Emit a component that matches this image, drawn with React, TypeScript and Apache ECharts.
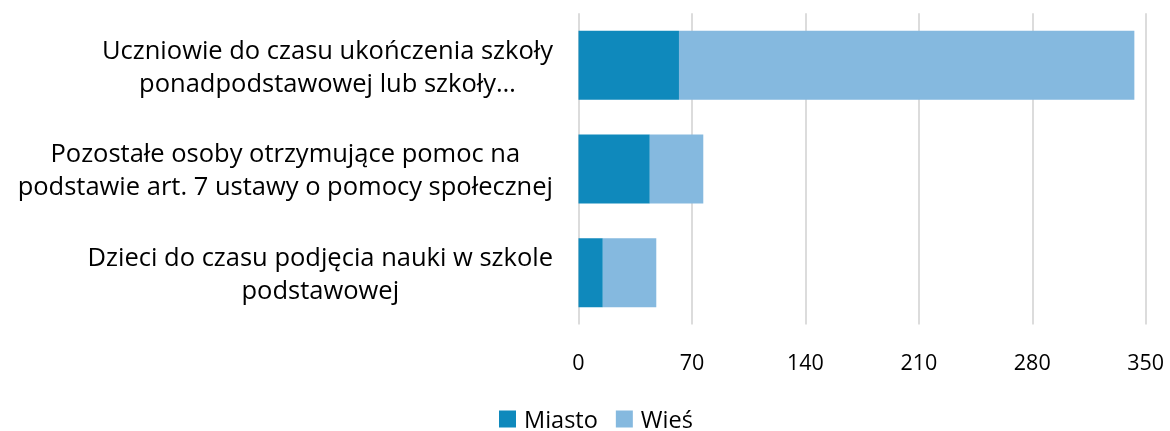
import React, { useEffect, useRef } from "react";
import * as echarts from "echarts";

const categories = [
  "Dzieci do czasu podjęcia nauki w szkole\npodstawowej",
  "Pozostałe osoby otrzymujące pomoc na\npodstawie art. 7 ustawy o pomocy społecznej",
  "Uczniowie do czasu ukończenia szkoły\nponadpodstawowej lub szkoły…",
];
const miasto = [15, 44, 62];
const wies = [33, 33, 281];
const seriesNames = ["Miasto", "Wieś"];

export default function App() {
  const ref = useRef<HTMLDivElement>(null);
  useEffect(() => {
    const chart = echarts.init(ref.current!, null, { renderer: "svg" });
    const font = "'Open Sans', 'Noto Sans', sans-serif";
    chart.setOption({
      animation: false,
      textStyle: { fontFamily: font },
      grid: { left: 578.5, right: 24.3, top: 13.3, height: 311.3, containLabel: false },
      legend: {
        top: 402,
        left: 494,
        itemWidth: 17,
        itemHeight: 17,
        itemGap: 18,
        icon: "rect",
        textStyle: {
          fontSize: 23.5,
          color: "#000",
          fontFamily: font,
          padding: [0, 0, 0, 3],
        },
        data: seriesNames,
      },
      xAxis: {
        type: "value",
        min: 0,
        max: 350,
        interval: 70,
        axisLine: { show: false },
        axisTick: { show: false },
        splitLine: { lineStyle: { color: "#d9d9d9", width: 1.8 } },
        axisLabel: { fontSize: 21.5, color: "#000", margin: 26, fontFamily: font },
      },
      yAxis: {
        type: "category",
        data: categories,
        axisLine: { show: false },
        axisTick: { show: false },
        axisLabel: {
          margin: 25.5,
          align: "right",
          formatter: (v: string) =>
            v
              .split("\n")
              .map((s) => `{c|${s}}`)
              .join("\n"),
          rich: {
            c: {
              align: "center",
              fontSize: 25.5,
              lineHeight: 33,
              color: "#000",
              fontFamily: font,
            },
          },
        },
      },
      series: [
        {
          name: seriesNames[0],
          type: "bar",
          stack: "a",
          data: miasto,
          barCategoryGap: "33.5%",
          itemStyle: { color: "#0F89BC" },
        },
        {
          name: seriesNames[1],
          type: "bar",
          stack: "a",
          data: wies,
          itemStyle: { color: "#85B9DF" },
        },
      ],
    });
    return () => chart.dispose();
  }, []);
  return (
    <div
      ref={ref}
      style={{ position: "fixed", left: 0, top: 0, width: 1170, height: 431 }}
    />
  );
}
